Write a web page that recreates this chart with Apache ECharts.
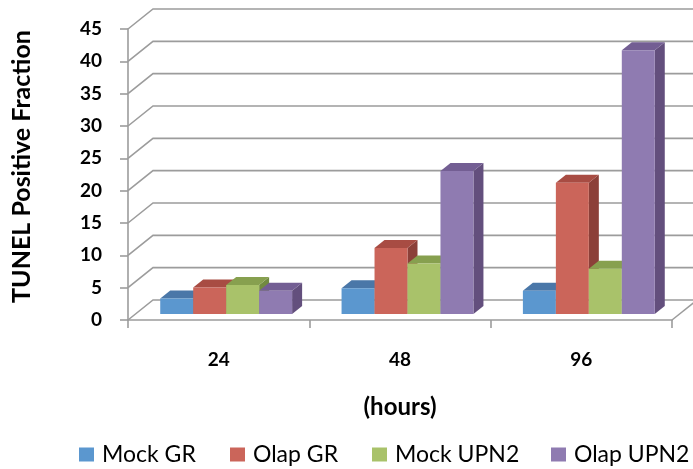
<!DOCTYPE html>
<html>
<head>
<meta charset="utf-8">
<script src="https://cdn.jsdelivr.net/npm/echarts@6/dist/echarts.min.js"></script>
<style>
  html, body { margin: 0; padding: 0; background: #ffffff; }
  #chart { width: 693px; height: 469px; }
</style>
</head>
<body>
<div id="chart"></div>
<script>
// Time points (hours) and TUNEL positive fraction per group
const categories = ['24', '48', '96'];
const seriesNames = ['Mock GR', 'Olap GR', 'Mock UPN2', 'Olap UPN2'];
const mockGR   = [2.4, 4.0, 3.6];
const olapGR   = [4.1, 10.2, 20.3];
const mockUPN2 = [4.5, 7.8, 7.0];
const olapUPN2 = [3.6, 22.1, 40.8];
const yTicks = [0, 5, 10, 15, 20, 25, 30, 35, 40, 45];

// Face colours for each series: front, top, side
const palette = [
  { front: '#5B97CF', top: '#4A77A8', side: '#3F6690' },
  { front: '#CB655A', top: '#A84C43', side: '#8C4039' },
  { front: '#A9C26A', top: '#87A04F', side: '#728A40' },
  { front: '#8F7BB1', top: '#735E93', side: '#634F7D' }
];

// Oblique depth of the floor (back wall offset in pixels)
const DEPTH_X = 25, DEPTH_Y = -20;
// Bars sit between 30% and 70% of the floor depth
const BAR_FRONT = 0.3, BAR_DEPTH = 0.4;
const GRID_COLOR = '#9c9c9c';
const FONT = 'Lato';

const chart = echarts.init(document.getElementById('chart'), null, { renderer: 'canvas' });

function wallItem(params, api) {
  const cs = params.coordSys;
  const v = api.value(1);
  const y = api.coord([0, v])[1];
  const x0 = cs.x, x1 = cs.x + cs.width;
  const children = [{
    type: 'polyline',
    shape: { points: [[x0, y], [x0 + DEPTH_X, y + DEPTH_Y], [x1 + DEPTH_X, y + DEPTH_Y]] },
    style: { stroke: GRID_COLOR, lineWidth: 1.6, fill: null }
  }];
  if (v === 0) {
    children.push({
      type: 'line',
      shape: { x1: x1, y1: y, x2: x1 + DEPTH_X, y2: y + DEPTH_Y },
      style: { stroke: GRID_COLOR, lineWidth: 1.6 }
    });
  }
  return { type: 'group', children: children };
}

function barRenderer(s) {
  const col = palette[s];
  return function (params, api) {
    const cs = params.coordSys;
    const n = categories.length;
    const band = cs.width / n;
    const w = band / 5.5;
    const i = api.value(0);
    const v = api.value(1);
    const topPt = api.coord([i, v]);
    const basePt = api.coord([i, 0]);
    const fx = BAR_FRONT * DEPTH_X, fy = BAR_FRONT * DEPTH_Y;
    const dx = BAR_DEPTH * DEPTH_X, dy = BAR_DEPTH * DEPTH_Y;
    const left = topPt[0] - 2 * w + s * w + fx;
    const right = left + w;
    const top = topPt[1] + fy;
    const bottom = basePt[1] + fy;
    return {
      type: 'group',
      children: [
        {
          type: 'polygon',
          shape: { points: [[right, top], [right + dx, top + dy], [right + dx, bottom + dy], [right, bottom]] },
          style: { fill: col.side }
        },
        {
          type: 'polygon',
          shape: { points: [[left, top], [left + dx, top + dy], [right + dx, top + dy], [right, top]] },
          style: { fill: col.top }
        },
        {
          type: 'rect',
          shape: { x: left, y: top, width: w, height: bottom - top },
          style: { fill: col.front }
        }
      ]
    };
  };
}

const valuesBySeries = [mockGR, olapGR, mockUPN2, olapUPN2];
const legendLefts = [74, 225, 367, 546];

const series = [{
  name: 'walls',
  type: 'custom',
  clip: false,
  silent: true,
  renderItem: wallItem,
  data: yTicks.map(t => [0, t]),
  z: 1
}];
valuesBySeries.forEach((vals, s) => {
  series.push({
    name: seriesNames[s],
    type: 'custom',
    clip: false,
    renderItem: barRenderer(s),
    itemStyle: { color: palette[s].front },
    data: vals.map((v, i) => [i, v]),
    z: 2
  });
});

const option = {
  backgroundColor: '#ffffff',
  animation: false,
  grid: { left: 128, right: 21, top: 29, bottom: 149 },
  legend: seriesNames.map((name, s) => ({
    data: [name],
    left: legendLefts[s],
    top: 438,
    itemWidth: 15,
    itemHeight: 14,
    icon: 'rect',
    itemGap: 0,
    textStyle: { fontFamily: FONT, fontSize: 23, color: '#000', padding: [0, 0, 0, 3] }
  })),
  xAxis: {
    type: 'category',
    data: categories,
    boundaryGap: true,
    name: '(hours)',
    nameLocation: 'middle',
    nameGap: 75,
    nameTextStyle: { fontFamily: FONT, fontWeight: 'bold', fontSize: 24, color: '#000' },
    axisLine: { show: true, lineStyle: { color: GRID_COLOR, width: 1.6 } },
    axisTick: { show: true, length: 8, lineStyle: { color: GRID_COLOR, width: 1.6 } },
    axisLabel: { margin: 30, fontFamily: FONT, fontWeight: 'bold', fontSize: 19, color: '#000' },
    splitLine: { show: false }
  },
  yAxis: {
    type: 'value',
    min: 0,
    max: 45,
    interval: 5,
    name: 'TUNEL Positive Fraction',
    nameLocation: 'middle',
    nameRotate: 90,
    nameGap: 94,
    nameTextStyle: { fontFamily: FONT, fontWeight: 'bold', fontSize: 25, color: '#000', padding: [0, 0, 0, 16] },
    axisLine: { show: true, lineStyle: { color: GRID_COLOR, width: 1.6 } },
    axisTick: { show: true, length: 8, lineStyle: { color: GRID_COLOR, width: 1.6 } },
    axisLabel: { margin: 26, fontFamily: FONT, fontWeight: 'bold', fontSize: 19, color: '#000' },
    splitLine: { show: false }
  },
  series: series
};

chart.setOption(option);
</script>
</body>
</html>
